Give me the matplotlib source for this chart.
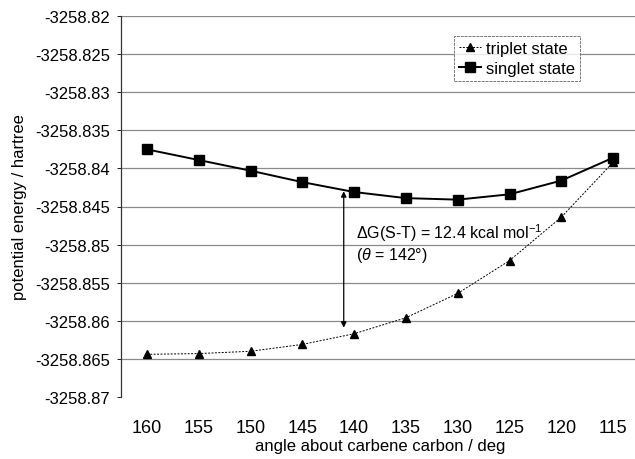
import matplotlib
matplotlib.use("Agg")
import matplotlib.pyplot as plt

angles = [160, 155, 150, 145, 140, 135, 130, 125, 120, 115]
singlet = [-3258.8375, -3258.8389, -3258.8403, -3258.8418, -3258.8431,
           -3258.8439, -3258.8441, -3258.8434, -3258.8416, -3258.8386]
triplet = [-3258.8644, -3258.8643, -3258.8640, -3258.8631, -3258.8617,
           -3258.8596, -3258.8564, -3258.8521, -3258.8464, -3258.8392]
yticks = [-3258.82, -3258.825, -3258.83, -3258.835, -3258.84, -3258.845,
          -3258.85, -3258.855, -3258.86, -3258.865, -3258.87]
ytick_labels = ["-3258.82", "-3258.825", "-3258.83", "-3258.835", "-3258.84",
                "-3258.845", "-3258.85", "-3258.855", "-3258.86", "-3258.865",
                "-3258.87"]
arrow_x = 141
arrow_top = -3258.8430
arrow_bottom = -3258.8609

plt.rcParams['font.family'] = ['Liberation Sans', 'DejaVu Sans']
plt.rcParams['mathtext.fontset'] = 'custom'
plt.rcParams['mathtext.rm'] = 'Liberation Sans'
plt.rcParams['mathtext.it'] = 'Liberation Sans:italic'

fig = plt.figure(figsize=(6.35, 4.6), dpi=100)
W, H = 635, 460
ax = fig.add_axes([121 / W, 1 - 398 / H, (639 - 121) / W, (398 - 17) / H])

ax.set_xlim(162.5, 112.5)
ax.set_ylim(-3258.87, -3258.82)
ax.set_yticks(yticks)
ax.set_yticklabels(ytick_labels, fontsize=12)
ax.set_xticks(angles)
ax.set_xticklabels([str(a) for a in angles], fontsize=13)
ax.tick_params(axis='x', length=0, pad=16)
ax.tick_params(axis='y', length=3, width=0.6, pad=5, direction='out')

for y in yticks[:-1]:
    ax.axhline(y, color='#8a8a8a', lw=0.9, zorder=0)
ax.axhline(yticks[-1], color='#d0d0d0', lw=0.8, ls=(0, (1, 2)), zorder=0)

for s in ['top', 'right', 'bottom']:
    ax.spines[s].set_visible(False)
ax.spines['left'].set_color('#333333')
ax.spines['left'].set_linewidth(0.9)

ax.plot(angles, triplet, color='black', lw=0.7, ls=(0, (2, 1.5)),
        marker='^', ms=5.5, label='triplet state', zorder=3)
ax.plot(angles, singlet, color='black', lw=1.4, ls='-',
        marker='s', ms=6.5, label='singlet state', zorder=3)

ax.annotate('', xy=(arrow_x, arrow_bottom), xytext=(arrow_x, arrow_top),
            arrowprops=dict(arrowstyle='<|-|>', color='black', lw=0.9,
                            mutation_scale=8, shrinkA=0, shrinkB=0))
ax.text(139.8, -3258.8484, r'$\mathit{Δ}$G(S-T) = 12.4 kcal mol$^{-1}$',
        fontsize=11.5, va='center', ha='left')
ax.text(139.8, -3258.8513, r'($\mathit{θ}$ = 142°)',
        fontsize=11.5, va='center', ha='left')

leg = ax.legend(loc='upper left', bbox_to_anchor=((454 - 121) / 518, 1 - (37 - 17) / 381),
                fontsize=12, frameon=True, fancybox=False, borderpad=0.3,
                handlelength=1.3, handletextpad=0.3, labelspacing=0.3,
                borderaxespad=0)
leg.get_frame().set_edgecolor('#555555')
leg.get_frame().set_linewidth(0.7)
leg.get_frame().set_linestyle((0, (3, 1)))

ax.set_xlabel('angle about carbene carbon / deg', fontsize=12, labelpad=1)
ax.set_ylabel('potential energy / hartree', fontsize=12, labelpad=6)

fig.savefig('out.png', dpi=100)
